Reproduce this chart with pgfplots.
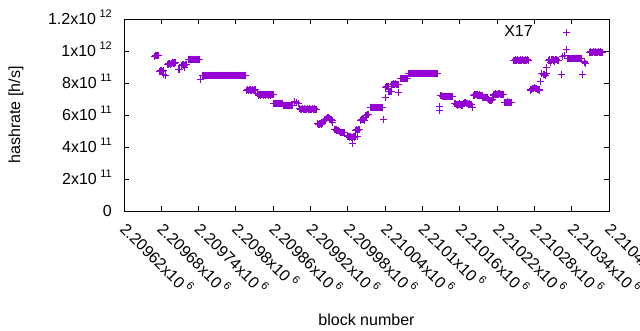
\documentclass[border=0pt]{standalone}
\usepackage{fontspec}
\setmainfont{Liberation Sans}
\usepackage{pgfplots}
\pgfplotsset{compat=1.18}
\definecolor{dviolet}{HTML}{9400D3}
\newcommand\sups[1]{\smash{\raisebox{7pt}{\fontsize{11}{11}\selectfont\hspace{3.5pt}#1}}}
\begin{document}
\fontsize{16}{19}\selectfont
\begin{tikzpicture}[x=1pt,y=1pt]
\begin{axis}[
  name=ax,
  scale only axis, width=485pt, height=192pt,
  x coord trafo/.code={\edef\pgfmathresult{\fpeval{#1-2209620}}},
  xmin=2209620, xmax=2210400,
  ymin=0, ymax=1.2e12,
  scaled y ticks=false, scaled x ticks=false,
  xtick={2209620,2209680,2209740,2209800,2209860,2209920,2209980,2210040,2210100,2210160,2210220,2210280,2210340,2210400},
  xticklabels={2.20962x10\sups{6},2.20968x10\sups{6},2.20974x10\sups{6},2.2098x10\sups{6},2.20986x10\sups{6},2.20992x10\sups{6},2.20998x10\sups{6},2.21004x10\sups{6},2.2101x10\sups{6},2.21016x10\sups{6},2.21022x10\sups{6},2.21028x10\sups{6},2.21034x10\sups{6},2.2104x10\sups{6}},
  ytick={0,2e11,4e11,6e11,8e11,1e12,1.2e12},
  yticklabels={0,2x10\sups{11},4x10\sups{11},6x10\sups{11},8x10\sups{11},1x10\sups{12},1.2x10\sups{12}},
  tick pos=both,
  major tick length=5pt,
  every tick/.style={black, line width=0.9pt},
  axis line style={line width=0.9pt},
  yticklabel style={anchor=east, inner sep=0pt, xshift=-12pt},
  xticklabel style={inner sep=0pt, xshift=3pt, yshift=-11pt, rotate=-45, anchor=north west},
  xlabel={block number},
  ylabel={hashrate [h/s]},
  xlabel style={at={(axis description cs:0.5,-0.568)}, anchor=center},
  ylabel style={at={(axis description cs:-0.2227,0.5)}, anchor=center},
]
\addplot[only marks, mark=+, mark size=3.5pt, color=dviolet, mark options={line width=1pt}] table[row sep=\\] {
x y\\
2209669 9.68e11\\ 2209670 9.72e11\\ 2209671 9.74e11\\ 2209672 9.69e11\\ 2209673 9.70e11\\ 2209674 9.75e11\\ 2209675 9.73e11\\
2209677 8.70e11\\ 2209678 8.72e11\\ 2209679 8.76e11\\ 2209680 8.78e11\\ 2209681 8.73e11\\ 2209682 8.74e11\\ 2209683 8.56e11\\ 2209684 8.77e11\\ 2209687 8.44e11\\
2209690 9.16e11\\ 2209691 9.17e11\\ 2209692 9.21e11\\ 2209693 9.20e11\\ 2209694 9.16e11\\ 2209695 9.18e11\\ 2209696 9.22e11\\ 2209697 9.24e11\\ 2209698 9.27e11\\ 2209699 9.26e11\\ 2209700 9.22e11\\ 2209701 9.23e11\\ 2209702 9.27e11\\ 2209703 9.26e11\\
2209707 8.82e11\\ 2209708 8.85e11\\ 2209709 8.87e11\\
2209713 9.10e11\\ 2209714 9.14e11\\ 2209715 9.13e11\\ 2209716 9.11e11\\ 2209717 9.00e11\\ 2209718 9.12e11\\ 2209719 9.14e11\\ 2209720 9.17e11\\ 2209721 9.16e11\\
2209723 9.46e11\\ 2209724 9.49e11\\ 2209725 9.50e11\\ 2209726 9.47e11\\ 2209727 9.47e11\\ 2209728 9.50e11\\ 2209729 9.49e11\\ 2209730 9.46e11\\ 2209731 9.48e11\\ 2209732 9.50e11\\
2209733 9.50e11\\ 2209734 9.47e11\\ 2209735 9.46e11\\ 2209736 9.49e11\\ 2209737 9.49e11\\ 2209738 9.46e11\\ 2209739 9.48e11\\ 2209740 9.50e11\\ 2209741 9.47e11\\
2209743 8.19e11\\
2209746 8.48e11\\ 2209747 8.46e11\\ 2209748 8.49e11\\ 2209749 8.50e11\\ 2209750 8.47e11\\ 2209751 8.46e11\\ 2209752 8.49e11\\ 2209753 8.50e11\\ 2209754 8.47e11\\ 2209755 8.46e11\\
2209756 8.49e11\\ 2209757 8.50e11\\ 2209758 8.47e11\\ 2209759 8.46e11\\ 2209760 8.49e11\\ 2209761 8.50e11\\ 2209762 8.47e11\\ 2209763 8.46e11\\ 2209764 8.49e11\\ 2209765 8.50e11\\
2209766 8.47e11\\ 2209767 8.46e11\\ 2209768 8.49e11\\ 2209769 8.50e11\\ 2209770 8.47e11\\ 2209771 8.46e11\\ 2209772 8.49e11\\ 2209773 8.50e11\\ 2209774 8.47e11\\ 2209775 8.46e11\\
2209776 8.49e11\\ 2209777 8.50e11\\ 2209778 8.47e11\\ 2209779 8.46e11\\ 2209780 8.49e11\\ 2209781 8.50e11\\ 2209782 8.47e11\\ 2209783 8.46e11\\ 2209784 8.49e11\\ 2209785 8.50e11\\
2209786 8.47e11\\ 2209787 8.46e11\\ 2209788 8.49e11\\ 2209789 8.50e11\\ 2209790 8.47e11\\ 2209791 8.46e11\\ 2209792 8.49e11\\ 2209793 8.50e11\\ 2209794 8.47e11\\ 2209795 8.46e11\\
2209796 8.49e11\\ 2209797 8.50e11\\ 2209798 8.47e11\\ 2209799 8.46e11\\ 2209800 8.49e11\\ 2209801 8.50e11\\ 2209802 8.47e11\\ 2209803 8.46e11\\ 2209804 8.49e11\\ 2209805 8.50e11\\
2209806 8.47e11\\ 2209807 8.46e11\\ 2209808 8.49e11\\ 2209809 8.50e11\\ 2209810 8.47e11\\ 2209811 8.46e11\\ 2209812 8.49e11\\ 2209813 8.50e11\\ 2209814 8.47e11\\ 2209815 8.46e11\\
2209817 7.55e11\\ 2209818 7.57e11\\ 2209819 7.58e11\\ 2209820 7.56e11\\ 2209821 7.55e11\\ 2209822 7.57e11\\ 2209823 7.58e11\\ 2209824 7.56e11\\ 2209825 7.55e11\\ 2209826 7.57e11\\
2209827 7.58e11\\ 2209828 7.56e11\\ 2209829 7.55e11\\ 2209830 7.57e11\\ 2209831 7.57e11\\
2209834 7.35e11\\
2209836 7.25e11\\ 2209837 7.27e11\\ 2209838 7.29e11\\ 2209839 7.26e11\\ 2209840 7.25e11\\ 2209841 7.28e11\\ 2209842 7.29e11\\ 2209843 7.26e11\\ 2209844 7.25e11\\ 2209845 7.28e11\\
2209846 7.29e11\\ 2209847 7.26e11\\ 2209848 7.25e11\\ 2209849 7.28e11\\ 2209850 7.29e11\\ 2209851 7.26e11\\ 2209852 7.25e11\\ 2209853 7.28e11\\ 2209854 7.29e11\\ 2209855 7.26e11\\
2209856 7.25e11\\ 2209857 7.28e11\\ 2209858 7.29e11\\ 2209859 7.26e11\\ 2209860 7.26e11\\
2209861 6.72e11\\ 2209862 6.74e11\\ 2209863 6.75e11\\ 2209864 6.73e11\\ 2209865 6.72e11\\ 2209866 6.74e11\\ 2209867 6.75e11\\ 2209868 6.73e11\\ 2209869 6.72e11\\ 2209870 6.74e11\\
2209871 6.75e11\\ 2209872 6.73e11\\ 2209873 6.72e11\\ 2209874 6.74e11\\ 2209875 6.74e11\\
2209877 6.59e11\\ 2209878 6.61e11\\ 2209879 6.62e11\\ 2209880 6.60e11\\ 2209881 6.59e11\\ 2209882 6.61e11\\ 2209883 6.62e11\\ 2209884 6.60e11\\ 2209885 6.59e11\\ 2209886 6.61e11\\
2209887 6.62e11\\ 2209888 6.60e11\\ 2209889 6.59e11\\ 2209890 6.61e11\\ 2209891 6.61e11\\
2209895 6.83e11\\ 2209897 6.80e11\\ 2209900 6.69e11\\
2209902 6.40e11\\ 2209903 6.38e11\\ 2209904 6.35e11\\ 2209905 6.34e11\\ 2209906 6.37e11\\ 2209907 6.38e11\\ 2209908 6.35e11\\ 2209909 6.34e11\\ 2209910 6.37e11\\ 2209911 6.38e11\\
2209912 6.35e11\\ 2209913 6.34e11\\ 2209914 6.37e11\\ 2209915 6.38e11\\ 2209916 6.35e11\\ 2209917 6.34e11\\ 2209918 6.37e11\\ 2209919 6.38e11\\ 2209920 6.35e11\\ 2209921 6.34e11\\
2209922 6.37e11\\ 2209923 6.38e11\\ 2209924 6.35e11\\ 2209925 6.34e11\\ 2209926 6.37e11\\ 2209927 6.38e11\\ 2209928 6.35e11\\ 2209929 6.35e11\\
2209931 5.44e11\\ 2209932 5.44e11\\ 2209933 5.43e11\\ 2209934 5.42e11\\ 2209935 5.45e11\\ 2209936 5.46e11\\ 2209937 5.44e11\\ 2209938 5.43e11\\ 2209939 5.44e11\\ 2209940 5.45e11\\
2209941 5.62e11\\ 2209942 5.66e11\\ 2209943 5.70e11\\ 2209944 5.73e11\\ 2209945 5.76e11\\ 2209946 5.79e11\\ 2209947 5.82e11\\ 2209948 5.84e11\\ 2209949 5.85e11\\ 2209950 5.81e11\\
2209951 5.78e11\\ 2209952 5.74e11\\ 2209953 5.70e11\\ 2209954 5.68e11\\ 2209955 5.66e11\\ 2209956 5.52e11\\
2209959 5.12e11\\ 2209960 5.10e11\\ 2209961 5.08e11\\ 2209962 5.06e11\\ 2209963 5.04e11\\ 2209964 5.05e11\\ 2209965 5.06e11\\ 2209966 5.00e11\\ 2209967 4.95e11\\ 2209968 4.92e11\\
2209969 4.90e11\\ 2209970 4.91e11\\ 2209971 4.92e11\\ 2209972 4.90e11\\ 2209973 4.88e11\\ 2209974 4.89e11\\ 2209975 4.90e11\\
2209979 4.70e11\\ 2209980 4.68e11\\ 2209981 4.66e11\\ 2209982 4.64e11\\ 2209983 4.62e11\\ 2209984 4.63e11\\ 2209985 4.65e11\\ 2209986 4.62e11\\ 2209987 4.60e11\\ 2209988 4.23e11\\
2209989 4.64e11\\ 2209990 4.63e11\\ 2209991 4.62e11\\ 2209993 4.66e11\\ 2209995 4.68e11\\
2209992 5.04e11\\ 2209994 5.08e11\\ 2209996 5.06e11\\ 2209997 5.08e11\\ 2209998 5.10e11\\
2210000 5.66e11\\ 2210001 5.68e11\\ 2210002 5.70e11\\ 2210003 5.71e11\\ 2210004 5.72e11\\ 2210005 5.70e11\\ 2210006 5.68e11\\
2210008 5.95e11\\ 2210009 5.98e11\\ 2210010 6.00e11\\ 2210011 6.02e11\\ 2210012 6.04e11\\ 2210013 6.05e11\\ 2210014 6.06e11\\
2210016 6.46e11\\ 2210017 6.48e11\\ 2210018 6.50e11\\ 2210019 6.47e11\\ 2210020 6.46e11\\ 2210021 6.49e11\\ 2210022 6.50e11\\ 2210023 6.47e11\\ 2210024 6.46e11\\ 2210025 6.49e11\\
2210026 6.50e11\\ 2210027 6.47e11\\ 2210028 6.46e11\\ 2210029 6.49e11\\ 2210030 6.50e11\\ 2210031 6.47e11\\ 2210032 6.46e11\\ 2210033 6.49e11\\ 2210034 6.50e11\\ 2210035 6.47e11\\ 2210036 6.48e11\\
2210037 5.75e11\\ 2210040 7.10e11\\
2210041 7.75e11\\ 2210042 7.78e11\\ 2210043 7.80e11\\ 2210044 7.78e11\\ 2210045 7.76e11\\
2210046 7.44e11\\ 2210047 7.46e11\\ 2210048 7.48e11\\ 2210049 7.47e11\\ 2210050 7.46e11\\
2210051 7.90e11\\ 2210052 7.92e11\\ 2210053 7.94e11\\ 2210054 7.93e11\\ 2210055 7.92e11\\ 2210056 7.94e11\\ 2210057 7.95e11\\ 2210058 7.93e11\\ 2210059 7.91e11\\ 2210060 7.92e11\\ 2210061 7.93e11\\
2210062 7.42e11\\
2210064 8.27e11\\ 2210065 8.29e11\\ 2210066 8.30e11\\ 2210067 8.28e11\\ 2210068 8.28e11\\ 2210069 8.30e11\\ 2210070 8.31e11\\ 2210071 8.29e11\\ 2210072 8.29e11\\ 2210073 8.31e11\\
2210074 8.30e11\\ 2210075 8.28e11\\ 2210076 8.28e11\\
2210077 8.60e11\\ 2210078 8.58e11\\ 2210079 8.61e11\\ 2210080 8.62e11\\ 2210081 8.59e11\\ 2210082 8.58e11\\ 2210083 8.61e11\\ 2210084 8.62e11\\ 2210085 8.59e11\\ 2210086 8.58e11\\
2210087 8.61e11\\ 2210088 8.62e11\\ 2210089 8.59e11\\ 2210090 8.58e11\\ 2210091 8.61e11\\ 2210092 8.62e11\\ 2210093 8.59e11\\ 2210094 8.58e11\\ 2210095 8.61e11\\ 2210096 8.62e11\\
2210097 8.59e11\\ 2210098 8.58e11\\ 2210099 8.61e11\\ 2210100 8.62e11\\ 2210101 8.59e11\\ 2210102 8.58e11\\ 2210103 8.61e11\\ 2210104 8.62e11\\ 2210105 8.59e11\\ 2210106 8.58e11\\
2210107 8.61e11\\ 2210108 8.62e11\\ 2210109 8.59e11\\ 2210110 8.58e11\\ 2210111 8.61e11\\ 2210112 8.62e11\\ 2210113 8.59e11\\ 2210114 8.58e11\\ 2210115 8.61e11\\ 2210116 8.62e11\\
2210117 8.59e11\\ 2210118 8.58e11\\ 2210119 8.61e11\\ 2210120 8.62e11\\ 2210121 8.59e11\\ 2210122 8.58e11\\ 2210123 8.61e11\\ 2210124 8.60e11\\
2210127 6.56e11\\ 2210128 6.31e11\\
2210129 7.22e11\\ 2210130 7.21e11\\ 2210131 7.20e11\\ 2210132 7.18e11\\ 2210133 7.16e11\\ 2210134 7.15e11\\ 2210135 7.14e11\\ 2210136 7.16e11\\ 2210137 7.15e11\\ 2210138 7.14e11\\
2210139 7.13e11\\ 2210140 7.15e11\\ 2210141 7.15e11\\ 2210142 7.16e11\\ 2210143 7.14e11\\ 2210144 7.13e11\\ 2210145 7.16e11\\ 2210146 7.14e11\\ 2210147 7.15e11\\ 2210148 7.16e11\\ 2210149 7.14e11\\
2210152 6.75e11\\ 2210153 6.71e11\\ 2210154 6.68e11\\ 2210155 6.64e11\\ 2210156 6.62e11\\ 2210157 6.63e11\\ 2210158 6.65e11\\ 2210159 6.68e11\\ 2210160 6.70e11\\ 2210161 6.68e11\\
2210162 6.66e11\\ 2210163 6.62e11\\ 2210164 6.60e11\\ 2210165 6.66e11\\ 2210166 6.70e11\\ 2210167 6.74e11\\ 2210168 6.76e11\\ 2210169 6.77e11\\ 2210170 6.78e11\\ 2210171 6.75e11\\
2210172 6.72e11\\ 2210173 6.70e11\\ 2210174 6.68e11\\ 2210175 6.69e11\\ 2210176 6.70e11\\ 2210177 6.68e11\\ 2210178 6.66e11\\ 2210179 6.64e11\\ 2210180 6.46e11\\
2210182 7.22e11\\ 2210183 7.25e11\\ 2210184 7.28e11\\ 2210185 7.29e11\\ 2210186 7.30e11\\ 2210187 7.28e11\\ 2210188 7.26e11\\ 2210189 7.25e11\\ 2210190 7.24e11\\ 2210191 7.26e11\\
2210192 7.25e11\\ 2210193 7.23e11\\ 2210194 7.22e11\\ 2210195 7.23e11\\ 2210196 7.24e11\\
2210197 7.12e11\\ 2210198 7.11e11\\ 2210199 7.10e11\\ 2210200 7.09e11\\ 2210201 7.08e11\\ 2210202 7.09e11\\ 2210203 7.10e11\\ 2210204 7.07e11\\ 2210205 7.05e11\\
2210206 6.96e11\\ 2210207 6.94e11\\ 2210208 6.92e11\\ 2210209 6.90e11\\ 2210210 6.88e11\\ 2210211 6.92e11\\ 2210212 6.95e11\\
2210214 7.25e11\\ 2210215 7.28e11\\ 2210216 7.30e11\\ 2210217 7.31e11\\ 2210218 7.32e11\\ 2210219 7.30e11\\ 2210220 7.28e11\\ 2210221 7.29e11\\ 2210222 7.30e11\\ 2210223 7.32e11\\
2210224 7.33e11\\ 2210225 7.30e11\\ 2210226 7.28e11\\ 2210227 7.29e11\\ 2210228 7.30e11\\ 2210229 7.28e11\\ 2210230 7.27e11\\
2210232 6.80e11\\ 2210233 6.79e11\\ 2210234 6.78e11\\ 2210235 6.80e11\\ 2210236 6.82e11\\ 2210237 6.79e11\\ 2210238 6.77e11\\ 2210239 6.79e11\\ 2210240 6.80e11\\ 2210241 6.80e11\\
2210242 6.79e11\\ 2210243 6.80e11\\ 2210244 6.81e11\\
2210247 9.40e11\\ 2210248 9.42e11\\ 2210249 9.44e11\\ 2210250 9.41e11\\ 2210251 9.40e11\\ 2210252 9.43e11\\ 2210253 9.44e11\\ 2210254 9.41e11\\ 2210255 9.40e11\\ 2210256 9.43e11\\
2210257 9.44e11\\ 2210258 9.41e11\\ 2210259 9.40e11\\ 2210260 9.43e11\\ 2210261 9.44e11\\ 2210262 9.41e11\\ 2210263 9.40e11\\ 2210264 9.43e11\\ 2210265 9.44e11\\ 2210266 9.41e11\\
2210267 9.40e11\\ 2210268 9.43e11\\ 2210269 9.44e11\\ 2210270 9.41e11\\ 2210271 9.42e11\\
2210273 7.55e11\\ 2210274 7.58e11\\ 2210275 7.60e11\\ 2210276 7.62e11\\ 2210277 7.64e11\\ 2210278 7.66e11\\ 2210279 7.68e11\\ 2210280 7.70e11\\ 2210281 7.70e11\\ 2210282 7.68e11\\
2210283 7.66e11\\ 2210284 7.64e11\\ 2210285 7.62e11\\ 2210286 7.60e11\\ 2210287 7.58e11\\ 2210288 7.57e11\\ 2210289 7.56e11\\
2210290 8.08e11\\ 2210292 8.60e11\\ 2210294 8.52e11\\ 2210296 8.56e11\\ 2210298 8.48e11\\ 2210299 8.96e11\\ 2210300 8.58e11\\
2210302 9.40e11\\ 2210303 9.43e11\\ 2210304 9.46e11\\ 2210305 9.40e11\\ 2210306 9.30e11\\ 2210307 9.38e11\\ 2210308 9.44e11\\ 2210309 9.46e11\\ 2210310 9.48e11\\ 2210311 9.40e11\\
2210312 9.34e11\\ 2210313 9.42e11\\ 2210314 9.46e11\\ 2210315 9.45e11\\ 2210316 9.44e11\\ 2210317 9.43e11\\ 2210318 9.42e11\\
2210323 8.56e11\\ 2210326 9.65e11\\ 2210328 9.75e11\\ 2210331 1.0125e12\\ 2210332 1.117e12\\
2210334 9.52e11\\ 2210335 9.54e11\\ 2210336 9.56e11\\ 2210337 9.53e11\\ 2210338 9.52e11\\ 2210339 9.55e11\\ 2210340 9.56e11\\ 2210341 9.53e11\\ 2210342 9.52e11\\ 2210343 9.55e11\\
2210344 9.56e11\\ 2210345 9.53e11\\ 2210346 9.52e11\\ 2210347 9.55e11\\ 2210348 9.56e11\\ 2210349 9.53e11\\ 2210350 9.52e11\\ 2210351 9.55e11\\ 2210352 9.56e11\\ 2210353 9.53e11\\
2210354 9.52e11\\ 2210355 9.54e11\\ 2210356 9.55e11\\
2210358 8.56e11\\ 2210360 9.35e11\\ 2210361 9.28e11\\ 2210363 9.20e11\\
2210369 9.90e11\\ 2210370 9.92e11\\ 2210371 9.94e11\\ 2210372 9.91e11\\ 2210373 9.90e11\\ 2210374 9.93e11\\ 2210375 9.94e11\\ 2210376 9.91e11\\ 2210377 9.90e11\\ 2210378 9.93e11\\
2210379 9.94e11\\ 2210380 9.91e11\\ 2210381 9.90e11\\ 2210382 9.93e11\\ 2210383 9.94e11\\ 2210384 9.91e11\\ 2210385 9.90e11\\ 2210386 9.93e11\\ 2210387 9.94e11\\ 2210388 9.91e11\\ 2210389 9.92e11\\
};
\node[anchor=center, inner sep=0pt] at (rel axis cs:0.8134,0.935) {X17};
\end{axis}
\pgfresetboundingbox
\useasboundingbox ([shift={(-124pt,-119pt)}]ax.south west) rectangle ([shift={(516pt,211pt)}]ax.south west);
\end{tikzpicture}
\end{document}
